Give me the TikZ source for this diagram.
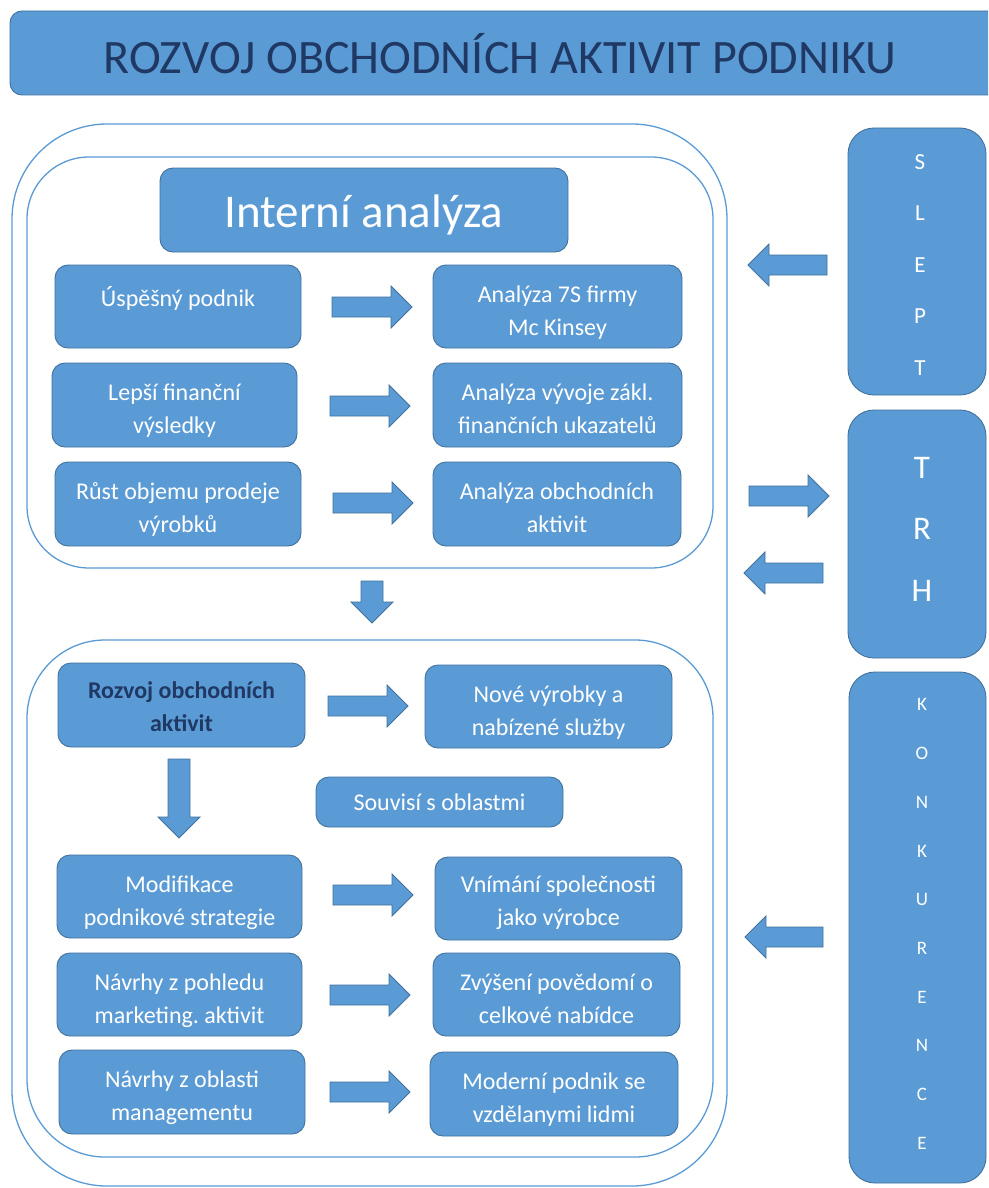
\documentclass[tikz,border=0pt]{standalone}
\usepackage{fontspec}
\setmainfont{Carlito}
\definecolor{boxblue}{HTML}{5B9BD5}
\definecolor{boxedge}{HTML}{41719C}
\definecolor{lineblue}{HTML}{5B9BD5}
\definecolor{navy}{HTML}{1F3864}
\tikzset{
  box/.style={draw=boxedge, fill=boxblue, line width=0.9pt, rounded corners=13pt, inner sep=0pt},
  sidebox/.style={box, rounded corners=26pt},
  frame/.style={draw=lineblue, line width=1.3pt},
  txt/.style={text=white, inner sep=0pt, font=\fontsize{24}{33}\selectfont},
  arr/.style={draw=boxedge, fill=boxblue, line width=0.8pt, line join=miter},
}
\newcommand{\bx}[5]{\node[box, minimum width={#4-#2}, minimum height={#5-#3}] (#1) at ({(#2+#4)/2},{(#3+#5)/2}) {};}
\newcommand{\txtline}[4]{\node[txt, anchor=base] (#1) at (#2,#3) {#4};}
\newcommand{\blkR}[3]{\draw[arr] (#1,#3-10) -- (#2-21,#3-10) -- (#2-21,#3-21) -- (#2,#3) -- (#2-21,#3+21) -- (#2-21,#3+10) -- (#1,#3+10) -- cycle;}
\newcommand{\blkL}[3]{\draw[arr] (#2,#3-10) -- (#1+21,#3-10) -- (#1+21,#3-21) -- (#1,#3) -- (#1+21,#3+21) -- (#1+21,#3+10) -- (#2,#3+10) -- cycle;}
\newcommand{\blkD}[3]{\draw[arr] (#1-11,#2) -- (#1+11,#2) -- (#1+11,#3-21) -- (#1+21,#3-21) -- (#1,#3) -- (#1-21,#3-21) -- (#1-11,#3-21) -- cycle;}
\frenchspacing
\begin{document}
\begin{tikzpicture}[x=1pt,y=-1pt]
\path[use as bounding box, fill=white] (0,0) rectangle (988,1188);
\clip (0,0) rectangle (988,1188);

% title
\node[box, rounded corners=12pt, minimum width=990, minimum height=84] (title) at (505,53) {};
\node[inner sep=0pt, anchor=base, text=navy, font=\fontsize{48}{58}\selectfont] (titletext) at (500,74) {ROZVOJ OBCHODNÍCH AKTIVIT PODNIKU};

% frames
\draw[frame, rounded corners=95pt] (12,124) rectangle (727,1186);
\draw[frame, rounded corners=62pt] (27,157) rectangle (713,568);
\draw[frame, rounded corners=78pt] (27,640) rectangle (713,1157);

% Interni analyza
\bx{ia}{160}{168}{568}{252}
\node[txt, anchor=base, font=\fontsize{47}{56}\selectfont] (iatext) at (364,227) {Interní analýza};

% top rows
\bx{l1}{55}{265}{301}{348}
\bx{r1}{433}{265}{682}{348}
\bx{l2}{52}{363}{297}{447}
\bx{r2}{433}{363}{682}{447}
\bx{l3}{55}{462}{301}{546}
\bx{r3}{433}{462}{681}{546}

\txtline{l1a}{178}{306}{Úspěšný podnik}
\txtline{r1a}{557.5}{302}{Analýza 7S firmy}
\txtline{r1b}{557.5}{335}{Mc Kinsey}
\txtline{l2a}{174.5}{400}{Lepší finanční}
\txtline{l2b}{174.5}{433}{výsledky}
\txtline{r2a}{557.5}{400}{Analýza vývoje zákl.}
\txtline{r2b}{557.5}{433}{finančních ukazatelů}
\txtline{l3a}{178}{499}{Růst objemu prodeje}
\txtline{l3b}{178}{532}{výrobků}
\txtline{r3a}{557}{499}{Analýza obchodních}
\txtline{r3b}{557}{532}{aktivit}

\blkR{332}{412}{307}
\blkR{330}{410}{406}
\blkR{333}{413}{503}

% down arrow between sections
\blkD{372}{581}{623}

% bottom section
\bx{roz}{58}{663}{305}{747}
\node[txt, anchor=base, text=navy, font=\bfseries\fontsize{24}{33}\selectfont] (roza) at (181.5,698) {Rozvoj obchodních};
\node[txt, anchor=base, text=navy, font=\bfseries\fontsize{24}{33}\selectfont] (rozb) at (181.5,731) {aktivit};
\bx{nov}{425}{665}{672}{748}
\txtline{nova}{548.5}{702}{Nové výrobky a}
\txtline{novb}{548.5}{735}{nabízené služby}
\blkR{328}{408}{706}

\bx{sou}{316}{777}{563}{827}
\txtline{soua}{439.5}{810}{Souvisí s oblastmi}
\blkD{179}{759}{838}

\bx{m1l}{57}{855}{302}{938}
\bx{m1r}{435}{857}{682}{940}
\bx{m2l}{57}{953}{302}{1036}
\bx{m2r}{433}{953}{680}{1036}
\bx{m3l}{59}{1050}{305}{1134}
\bx{m3r}{430}{1052}{678}{1136}

\txtline{m1la}{179.5}{892}{Modifikace}
\txtline{m1lb}{179.5}{925}{podnikové strategie}
\txtline{m1ra}{558.5}{892}{Vnímání společnosti}
\txtline{m1rb}{558.5}{925}{jako výrobce}
\txtline{m2la}{179.5}{990}{Návrhy z pohledu}
\txtline{m2lb}{179.5}{1023}{marketing. aktivit}
\txtline{m2ra}{556.5}{990}{Zvýšení povědomí o}
\txtline{m2rb}{556.5}{1023}{celkové nabídce}
\txtline{m3la}{182}{1087}{Návrhy z oblasti}
\txtline{m3lb}{182}{1120}{managementu}
\txtline{m3ra}{554}{1089}{Moderní podnik se}
\txtline{m3rb}{554}{1122}{vzdělanymi lidmi}

\blkR{333}{413}{895}
\blkR{330}{410}{995}
\blkR{330}{410}{1092}

% right side
\node[sidebox, minimum width=138, minimum height=267] (slept) at (917,261.5) {};
\node[txt, align=center, font=\fontsize{23}{51.5}\selectfont] (slepttext) at (920,265) {S\\L\\E\\P\\T};
\node[sidebox, minimum width=138, minimum height=248] (trh) at (917,534) {};
\node[txt, align=center, font=\fontsize{33}{61.5}\selectfont] (trhtext) at (922,529) {T\\R\\H};
\node[sidebox, minimum width=137, minimum height=511] (konk) at (917.5,927.5) {};
\node[txt, align=center, font=\fontsize{19}{48.7}\selectfont] (konktext) at (922,924) {K\\O\\N\\K\\U\\R\\E\\N\\C\\E};

\blkL{748}{827}{265}
\blkR{749}{829}{496}
\blkL{744}{823}{573}
\blkL{745}{823}{937}
\end{tikzpicture}
\end{document}
